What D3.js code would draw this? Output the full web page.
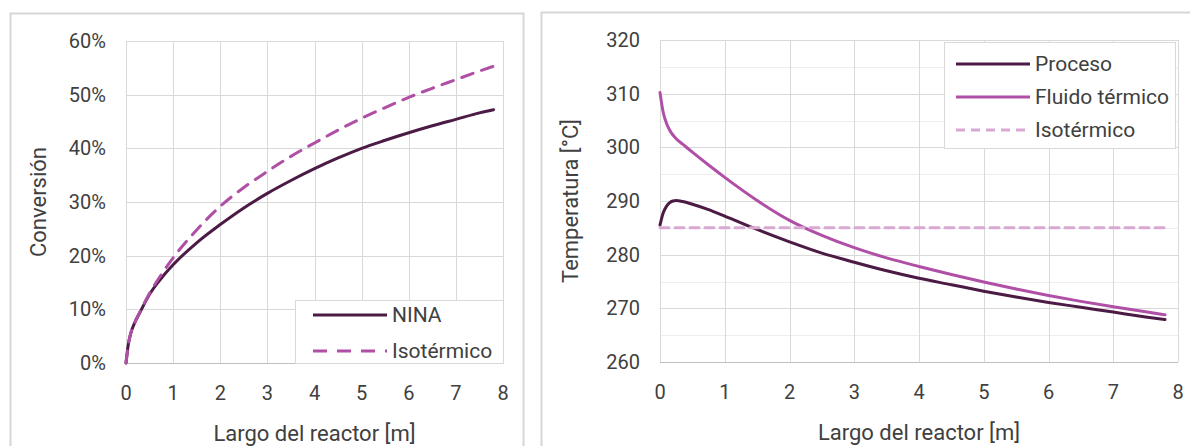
<!DOCTYPE html>
<html>
<head>
<meta charset="utf-8">
<script src="https://cdn.jsdelivr.net/npm/d3@7"></script>
<style>
  body { margin: 0; background: #fff; }
  svg text { font-family: Roboto, "DejaVu Sans Condensed", sans-serif; fill: #404040; }
</style>
</head>
<body>
<svg id="chart" width="1190" height="446"></svg>
<script>
// conversión vs largo del reactor
const convX = [0, 0.05, 0.1, 0.2, 0.3, 0.5, 0.75, 1, 1.5, 2, 2.5, 3, 3.5, 4, 4.5, 5, 5.5, 6, 6.5, 7, 7.5, 7.8];
const ninaConv = [0, 0.035, 0.055, 0.078, 0.095, 0.128, 0.158, 0.183, 0.224, 0.258, 0.289, 0.316, 0.34, 0.362, 0.382, 0.4, 0.415, 0.429, 0.442, 0.454, 0.466, 0.472];
const isoConv = [0, 0.035, 0.055, 0.078, 0.096, 0.13, 0.165, 0.196, 0.248, 0.292, 0.327, 0.357, 0.385, 0.41, 0.434, 0.456, 0.476, 0.495, 0.512, 0.528, 0.544, 0.553];
const convTicks = [0, 0.1, 0.2, 0.3, 0.4, 0.5, 0.6];

// temperatura vs largo del reactor
const tempX = [0, 0.05, 0.1, 0.15, 0.2, 0.25, 0.35, 0.5, 0.75, 1, 1.5, 2, 2.5, 3, 3.5, 4, 4.5, 5, 5.5, 6, 6.5, 7, 7.5, 7.8];
const procesoT = [285.5, 287.8, 289.0, 289.7, 290.0, 290.1, 289.9, 289.4, 288.4, 287.2, 284.7, 282.4, 280.3, 278.6, 277.0, 275.6, 274.4, 273.2, 272.1, 271.1, 270.2, 269.3, 268.4, 267.9];
const fluidoT = [310.2, 306.5, 304.5, 303.2, 302.3, 301.6, 300.6, 299.1, 296.7, 294.4, 290.1, 286.4, 283.6, 281.3, 279.4, 277.8, 276.3, 274.9, 273.6, 272.4, 271.3, 270.3, 269.35, 268.8];
const isoT = [285, 285, 285, 285, 285, 285, 285, 285, 285, 285, 285, 285, 285, 285, 285, 285, 285, 285, 285, 285, 285, 285, 285, 285];
const tempTicks = [260, 270, 280, 290, 300, 310, 320];
const tempMinorTicks = [265, 275, 285, 295, 305, 315];

const xTicks = [0, 1, 2, 3, 4, 5, 6, 7, 8];

const dark = "#4b1b45";
const magenta = "#b04fa6";
const pink = "#d9a8d3";

const svg = d3.select("#chart");

// marcos de los paneles
svg.append("rect").attr("x", 10.5).attr("y", 13.5).attr("width", 513).attr("height", 450)
    .attr("fill", "none").attr("stroke", "#d6d6d6").attr("stroke-width", 2);
svg.append("rect").attr("x", 541.5).attr("y", 12.5).attr("width", 660).attr("height", 450)
    .attr("fill", "none").attr("stroke", "#d6d6d6").attr("stroke-width", 2);

function drawPanel(opts) {
    const x = d3.scaleLinear().domain([0, 8]).range([opts.left, opts.right]);
    const y = d3.scaleLinear().domain(opts.yDomain).range([opts.bottom, opts.top]);
    const g = svg.append("g");

    if (opts.minor) {
        g.selectAll(".minor").data(opts.minor).enter().append("line")
            .attr("x1", opts.left).attr("x2", opts.right)
            .attr("y1", d => Math.round(y(d)) + 0.5).attr("y2", d => Math.round(y(d)) + 0.5)
            .attr("stroke", "#eeeeee").attr("stroke-width", 1);
    }
    g.selectAll(".hgrid").data(opts.yTicks).enter().append("line")
        .attr("x1", opts.left).attr("x2", opts.right)
        .attr("y1", d => Math.round(y(d)) + 0.5).attr("y2", d => Math.round(y(d)) + 0.5)
        .attr("stroke", d => d === opts.yDomain[0] ? "#bfbfbf" : "#d9d9d9").attr("stroke-width", 1);
    g.selectAll(".vgrid").data(xTicks).enter().append("line")
        .attr("y1", opts.top).attr("y2", opts.bottom)
        .attr("x1", d => Math.round(x(d)) + 0.5).attr("x2", d => Math.round(x(d)) + 0.5)
        .attr("stroke", "#d9d9d9").attr("stroke-width", 1);

    g.selectAll(".ylab").data(opts.yTicks).enter().append("text")
        .attr("x", opts.left - 20).attr("y", d => y(d)).attr("dy", "0.35em")
        .attr("text-anchor", "end").style("font-size", "20px")
        .text(opts.yFormat);
    g.selectAll(".xlab").data(xTicks).enter().append("text")
        .attr("x", d => x(d)).attr("y", opts.bottom + 30).attr("dy", "0.35em")
        .attr("text-anchor", "middle").style("font-size", "20px")
        .text(d => d);

    g.append("text").attr("x", (opts.left + opts.right) / 2).attr("y", opts.bottom + 70)
        .attr("dy", "0.35em").attr("text-anchor", "middle").style("font-size", "22px")
        .text("Largo del reactor [m]");
    g.append("text")
        .attr("transform", `translate(${opts.yTitleX},${(opts.top + opts.bottom) / 2}) rotate(-90)`)
        .attr("dy", "0.35em").attr("text-anchor", "middle").style("font-size", "22px")
        .text(opts.yTitle);

    opts.series.forEach(s => {
        const line = d3.line().x((d, i) => x(opts.xs[i])).y(d => y(d)).curve(d3.curveMonotoneX);
        g.append("path").datum(s.values)
            .attr("d", line).attr("fill", "none")
            .attr("stroke", s.color).attr("stroke-width", s.width)
            .attr("stroke-dasharray", s.dash || null)
            .attr("stroke-linecap", "round");
    });

    // leyenda
    const L = opts.legend;
    const lg = g.append("g");
    lg.append("rect").attr("x", L.x + 0.5).attr("y", L.y + 0.5).attr("width", L.w).attr("height", L.h)
        .attr("fill", "#fff").attr("stroke", "#d9d9d9");
    opts.series.forEach((s, i) => {
        const yy = L.y + L.first + i * L.step;
        lg.append("line").attr("x1", L.x + L.lx1).attr("x2", L.x + L.lx2)
            .attr("y1", yy).attr("y2", yy)
            .attr("stroke", s.color).attr("stroke-width", s.width)
            .attr("stroke-dasharray", s.legendDash || s.dash || null);
        lg.append("text").attr("x", L.x + L.lx2 + 5).attr("y", yy).attr("dy", "0.35em")
            .style("font-size", "21px").text(s.name);
    });
}

drawPanel({
    left: 126, right: 503, top: 41, bottom: 363,
    yDomain: [0, 0.6], yTicks: convTicks, yFormat: d3.format(".0%"),
    yTitle: "Conversión", yTitleX: 38,
    xs: convX,
    series: [
        { name: "NINA", values: ninaConv, color: dark, width: 3 },
        { name: "Isotérmico", values: isoConv, color: magenta, width: 3, dash: "12,9", legendDash: "14,10" }
    ],
    legend: { x: 295, y: 300, w: 208, h: 63, first: 15, step: 36, lx1: 18, lx2: 92 }
});

drawPanel({
    left: 660, right: 1178, top: 40, bottom: 362,
    yDomain: [260, 320], yTicks: tempTicks, minor: tempMinorTicks, yFormat: d => d,
    yTitle: "Temperatura [°C]", yTitleX: 570,
    xs: tempX,
    series: [
        { name: "Proceso", values: procesoT, color: dark, width: 3 },
        { name: "Fluido térmico", values: fluidoT, color: magenta, width: 3 },
        { name: "Isotérmico", values: isoT, color: pink, width: 3, dash: "9,6" }
    ],
    legend: { x: 944, y: 42, w: 231, h: 106, first: 22, step: 33, lx1: 12, lx2: 86 }
});
</script>
</body>
</html>
